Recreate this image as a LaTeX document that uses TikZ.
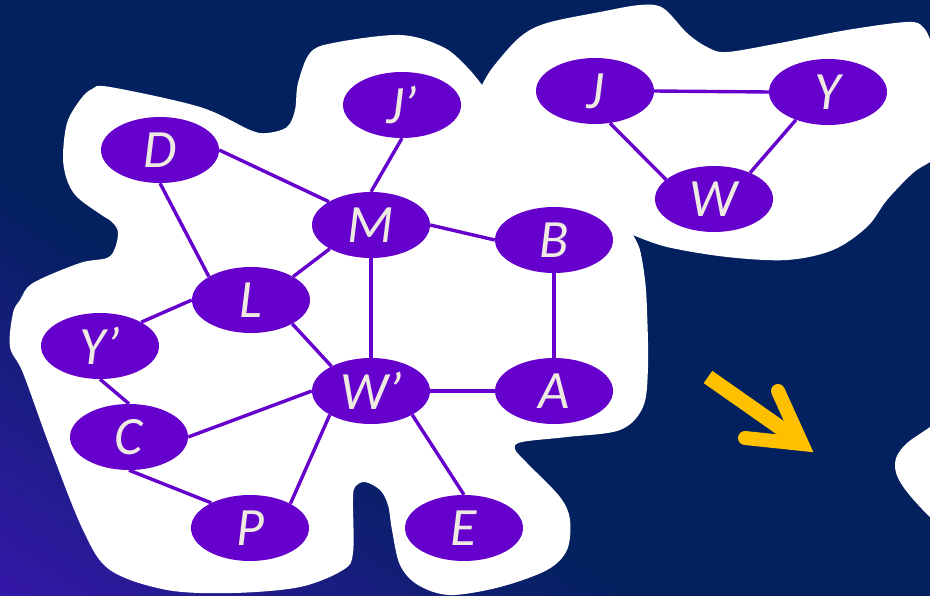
\documentclass[tikz,border=0pt]{standalone}
\usepackage{fontspec}
\setmainfont{Carlito}
\usetikzlibrary{shapes.geometric}
\definecolor{navy}{RGB}{2,33,94}
\definecolor{violetcorner}{RGB}{52,24,168}
\definecolor{nodeviolet}{RGB}{102,0,204}
\definecolor{labelwhite}{RGB}{238,234,226}
\definecolor{arrowgold}{RGB}{255,192,0}
\begin{document}
\begin{tikzpicture}[x=1pt,y=-1pt,
  vertex/.style={ellipse, fill=nodeviolet, minimum width=118pt, minimum height=66pt,
    inner sep=0pt, text=labelwhite, font=\fontsize{54}{54}\selectfont\itshape},
  link/.style={draw=nodeviolet, line width=3.4pt},
  blob/.style={fill=white}]
\useasboundingbox (0,0) rectangle (930,596);
\begin{scope}
  \clip (0,0) rectangle (930,596);
  % navy background, violet glow rising from the lower left corner
  \fill[navy] (0,0) rectangle (930,596);
  \begin{scope}[shift={(0,596)}, rotate=56.6]
    \foreach \i in {0,...,49} {
      \pgfmathsetmacro\pa{\i*7}
      \pgfmathsetmacro\pb{\i*7+8}
      \pgfmathsetmacro\mix{100-\i*2}
      \fill[violetcorner!\mix!navy] (\pa,-1500) rectangle (\pb,1500);
    }
  \end{scope}
  % white cloud holding both graphs
  \fill[blob] plot[smooth, tension=0.55] coordinates {
      (482,85) (493,67) (520,37) (547,23) (600,12) (640,5) (663,8) (687,33)
      (707,47) (727,52) (780,43) (847,30) (907,22) (923,27) (932,45) (945,90)
      (945,150) (930,162) (913,173) (887,200) (867,227) (833,250) (787,260)
      (727,257) (667,247) (633,235)}
    -- plot[smooth, tension=0.55] coordinates {
      (633,235) (640,250) (645,280) (647,310) (648,367) (643,407) (620,430)
      (567,437) (522,442) (515,449) (527,463) (560,497) (570,520) (567,550)
      (547,570) (500,587) (450,595) (418,585) (400,565) (392,530) (388,505)
      (380,490) (365,482) (355,487) (353,500) (353,553) (343,570) (300,587)
      (233,593) (167,590) (110,570) (83,530) (50,447) (23,373) (10,347)
      (13,313) (20,300) (33,283) (80,263) (107,258) (115,248) (118,232)
      (112,222) (100,214) (77,197) (67,180) (63,157) (67,123) (80,100)
      (92,89) (110,87) (200,107) (250,130) (267,133) (287,127) (295,110)
      (298,83) (310,53) (333,43) (400,35) (443,47) (467,67) (482,85)}
    -- cycle;
  % second cloud entering from the right edge
  \fill[blob] plot[smooth, tension=0.6] coordinates {
      (960,405) (930,427) (905,445) (895,463) (902,485) (930,517) (960,540)} -- cycle;
  % yellow arrow
  \draw[arrowgold, line width=15pt] (708,377) -- (795,438);
  \draw[arrowgold, line width=14pt, line cap=round, line join=miter]
    (778,391) -- (802,444) -- (745,438);
\end{scope}

% first graph
\node[vertex] (Jp) at (402,105) {J’};
\node[vertex] (D)  at (160,150) {D};
\node[vertex] (M)  at (371,225) {M};
\node[vertex] (L)  at (251,300) {L};
\node[vertex] (Yp) at (100,346) {Y’};
\node[vertex] (C)  at (129,437) {C};
\node[vertex] (Wp) at (371,391) {W’};
\node[vertex] (P)  at (250,528) {P};
\node[vertex] (E)  at (464,528) {E};
\node[vertex] (A)  at (554,391) {A};
\node[vertex] (B)  at (554,240) {B};

\draw[link] (D.east) -- (M.151);
\draw[link] (D.south) -- (L.151);
\draw[link] (Jp.south) -- (M.north);
\draw[link] (M.210) -- (L.29);
\draw[link] (M.east) -- (B.west);
\draw[link] (M.south) -- (Wp.north);
\draw[link] (L.west) -- (Yp.30);
\draw[link] (L.330) -- (Wp.148);
\draw[link] (Yp.south) -- (C.north);
\draw[link] (C.east) -- (Wp.west);
\draw[link] (C.south) -- (P.147);
\draw[link] (Wp.210) -- (P.31);
\draw[link] (Wp.east) -- (A.west);
\draw[link] (Wp.330) -- (E.north);
\draw[link] (B.south) -- (A.north);

% second graph
\node[vertex] (J) at (595,91)  {J};
\node[vertex] (Y) at (828,92)  {Y};
\node[vertex] (W) at (714,199) {W};

\draw[link] (J.east) -- (Y.west);
\draw[link] (J.295) -- (W.158);
\draw[link] (Y.221) -- (W.36);
\end{tikzpicture}
\end{document}
